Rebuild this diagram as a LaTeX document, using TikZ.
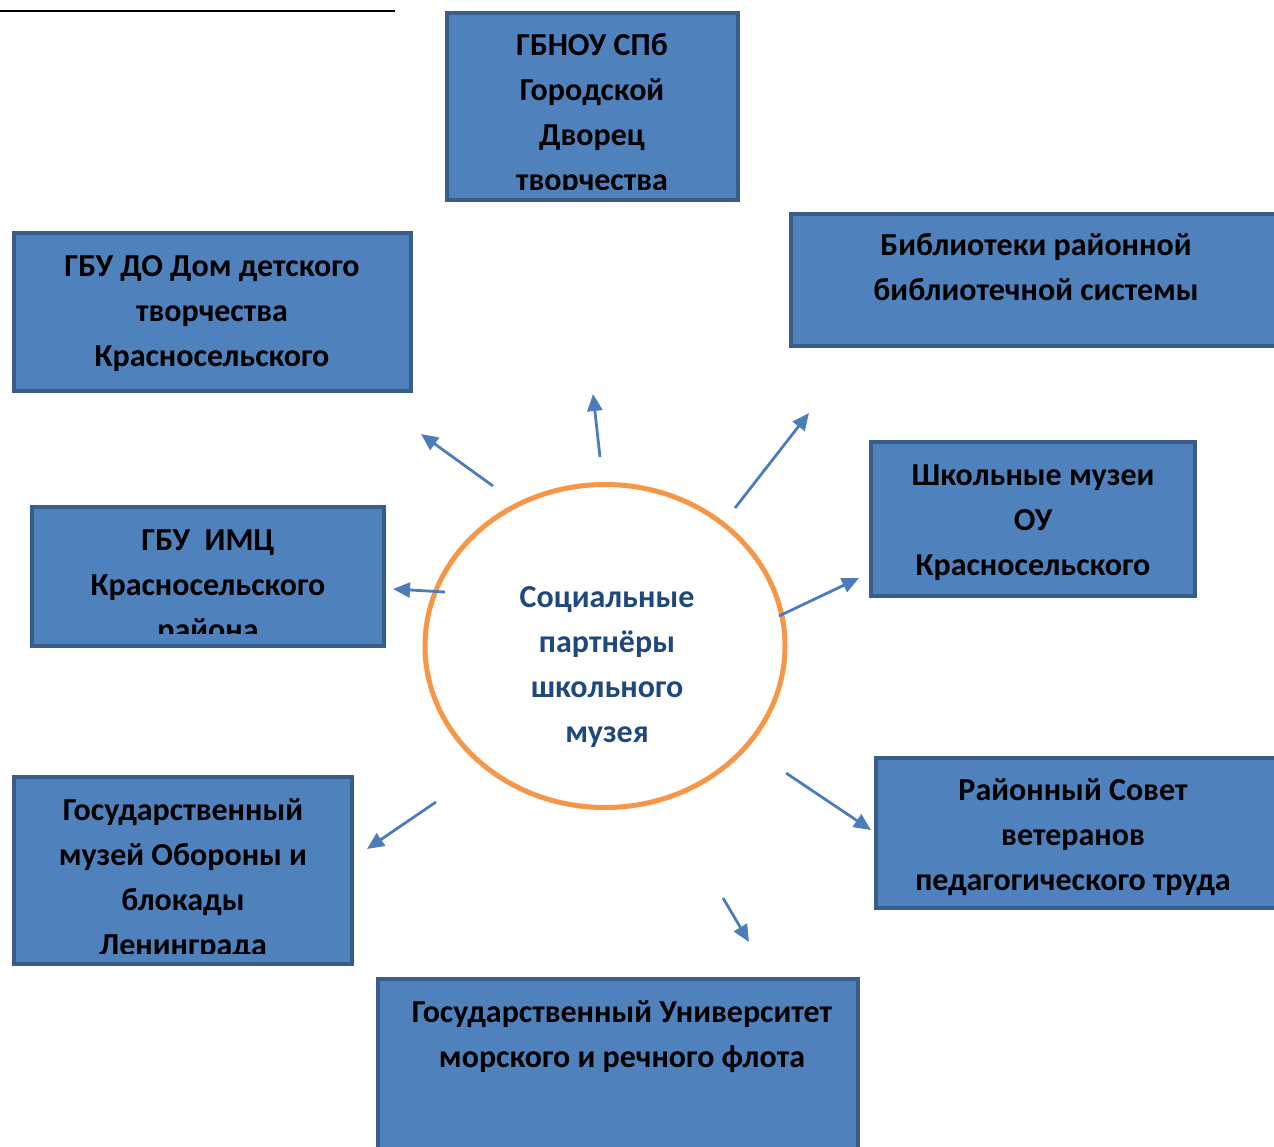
\documentclass[tikz,border=0pt]{standalone}
\usepackage{fontspec}
\setmainfont{Carlito}
\usetikzlibrary{arrows.meta,fit,shapes.geometric}
\definecolor{boxfill}{HTML}{4F81BD}
\definecolor{boxline}{HTML}{385D8A}
\definecolor{arrowc}{HTML}{4A7EBB}
\definecolor{ringc}{HTML}{F79646}
\definecolor{centertext}{HTML}{1F497D}
\begin{document}
\begin{tikzpicture}[x=1pt,y=-1pt,
  box/.style={draw=boxline, fill=boxfill, line width=4pt, rectangle, inner sep=0pt},
  lbl/.style={font=\fontsize{32pt}{45pt}\selectfont\bfseries, align=center, inner sep=0pt, anchor=base, text=black},
  ptr/.style={draw=arrowc, line width=2.8pt, -{Triangle[length=17pt,width=15pt]}},
  ring/.style={draw=ringc, line width=5pt, ellipse, inner sep=0pt, fill=white}]
\useasboundingbox[fill=white] (0,0) rectangle (1274,1146);

% thin rule top-left
\coordinate (rulel) at (0,11);
\coordinate (ruler) at (395,11);
\draw[line width=1.5pt] (rulel) -- (ruler);

% boxes (label anchor = baseline of the last line)
\node[box, fit={(447,13) (738,200)}] (gbnou) {};
\begin{scope}\clip (450,16) rectangle (735,189);
\node[lbl] (gbnout) at (592,190) {ГБНОУ СПб\\Городской\\Дворец\\творчества};
\end{scope}

\node[box, fit={(14,233) (411,391)}] (ddt) {};
\node[lbl] (ddtt) at (212,366) {ГБУ ДО Дом детского\\творчества\\Красносельского};

\node[box, fit={(791,214) (1290,346)}] (lib) {};
\node[lbl] (libt) at (1036,300) {Библиотеки районной\\библиотечной системы};

\node[box, fit={(32,507) (384,646)}] (imc) {};
\begin{scope}\clip (35,510) rectangle (381,633);
\node[lbl] (imct) at (208,640) {ГБУ\ \ ИМЦ\\Красносельского\\района};
\end{scope}

\node[box, fit={(871,442) (1195,596)}] (shm) {};
\node[lbl] (shmt) at (1033,575) {Школьные музеи\\ОУ\\Красносельского};

\node[box, fit={(14,777) (352,964)}] (muz) {};
\begin{scope}\clip (17,780) rectangle (349,953);
\node[lbl] (muzt) at (183,955) {Государственный\\музей Обороны и\\блокады\\Ленинграда};
\end{scope}

\node[box, fit={(876,758) (1290,908)}] (sov) {};
\node[lbl] (sovt) at (1073,890) {Районный Совет\\ветеранов\\педагогического труда};

\node[box, fit={(378,979) (858,1160)}] (uni) {};
\node[lbl] (unit) at (622,1067) {Государственный Университет\\морского и речного флота};

% centre
\node[ring, minimum width=360pt, minimum height=323pt] (centre) at (605,646) {};
\node[lbl, text=centertext] (centret) at (607,742) {Социальные\\партнёры\\школьного\\музея};

% arrows
\coordinate (a1s) at (493,486); \coordinate (a1e) at (421,434);
\coordinate (a2s) at (600,457); \coordinate (a2e) at (593,394);
\coordinate (a3s) at (735,508); \coordinate (a3e) at (809,413);
\coordinate (a4s) at (445,592); \coordinate (a4e) at (393,589);
\coordinate (a5s) at (779,616); \coordinate (a5e) at (859,578);
\coordinate (a6s) at (436,802); \coordinate (a6e) at (367,849);
\coordinate (a7s) at (786,773); \coordinate (a7e) at (871,830);
\coordinate (a8s) at (723,898); \coordinate (a8e) at (749,942);
\foreach \i in {1,...,8} \draw[ptr] (a\i s) -- (a\i e);
\end{tikzpicture}
\end{document}
